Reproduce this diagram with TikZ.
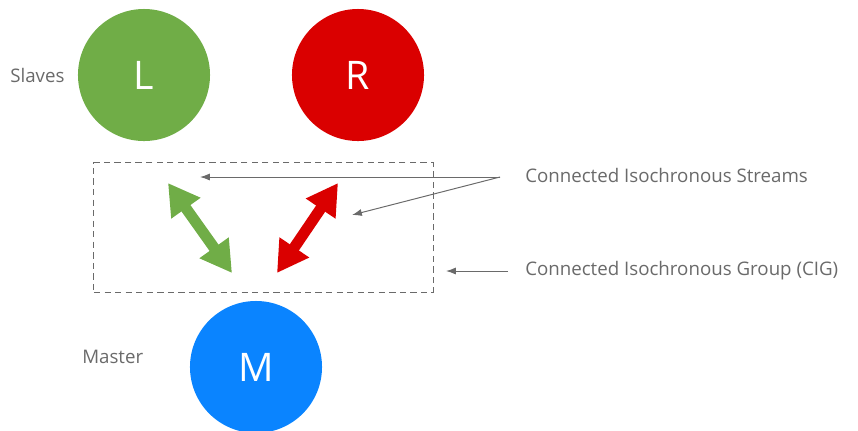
\documentclass[tikz,border=0pt]{standalone}
\usepackage{fontspec}
\setmainfont{Open Sans}
\usetikzlibrary{arrows.meta}
\definecolor{lgreen}{HTML}{70AD47}
\definecolor{rred}{HTML}{DA0000}
\definecolor{mblue}{HTML}{0A84FF}
\definecolor{txtgray}{HTML}{6A6A6A}
\begin{document}
\begin{tikzpicture}[
    x=0.025cm, y=-0.025cm,
    device/.style={circle, minimum size=3.3cm, inner sep=0pt, text=white, font=\fontsize{28}{30}\selectfont},
    caption/.style={text=txtgray, font=\fontsize{13.3}{15}\selectfont, inner sep=0pt},
    stream/.style={line width=7.8pt, {Triangle[length=22pt,width=24pt]}-{Triangle[length=22pt,width=24pt]}},
    pointer/.style={-{Latex[length=7pt,width=5pt]}, draw=txtgray, line width=0.7pt},
    groupbox/.style={draw=txtgray, dash pattern=on 4.5pt off 3pt, line width=0.7pt, minimum width=8.475cm, minimum height=3.225cm, inner sep=0pt}
  ]
    \useasboundingbox (0,0) rectangle (858,430);

    % Slaves
    \node[device, fill=lgreen] (L) at (144,75) {L};
    \node[device, fill=rred] (R) at (358,75) {R};
    \node[caption, anchor=west] (slaves) at (10,75) {Slaves};

    % Master
    \node[device, fill=mblue] (M) at (256,367) {M};
    \node[caption, anchor=west] (master) at (82,357) {Master};

    % Group
    \node[groupbox] (cig) at (263.5,227.5) {};

    % Streams
    \coordinate (lup) at (168,183);
    \coordinate (ldown) at (232,273);
    \coordinate (rup) at (338,183);
    \coordinate (rdown) at (277,273);
    \draw[stream, lgreen] (lup) -- (ldown);
    \draw[stream, rred] (rup) -- (rdown);

    % Captions
    \node[caption, anchor=west] (streams) at (525,175) {Connected Isochronous Streams};
    \node[caption, anchor=west] (group) at (525,271) {Connected Isochronous Group (CIG)};

    \coordinate (sfrom) at (500,177);
    \coordinate (sto1) at (200,177);
    \coordinate (sto2) at (352,215);
    \coordinate (gfrom) at (508,271);
    \coordinate (gto) at (446,271);
    \draw[pointer] (sfrom) -- (sto1);
    \draw[pointer] (sfrom) -- (sto2);
    \draw[pointer] (gfrom) -- (gto);

  \end{tikzpicture}
\end{document}
